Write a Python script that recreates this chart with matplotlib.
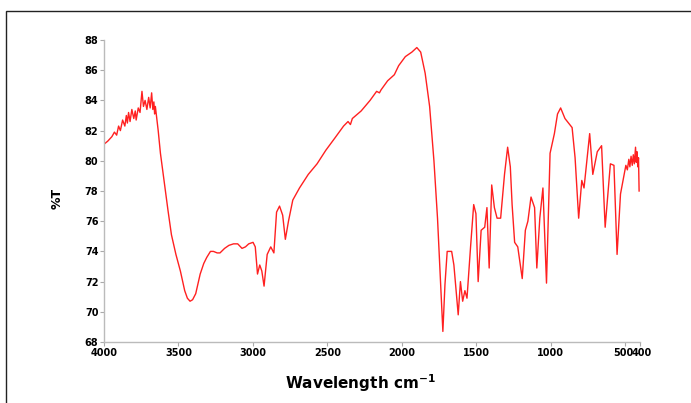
import numpy as np
import matplotlib.pyplot as plt
import matplotlib.transforms as mtransforms
from matplotlib.patches import Rectangle

# IR spectrum (wavenumber in cm-1, transmittance in %)
wavenumber = [4000, 3975, 3947, 3930, 3915, 3902, 3890, 3875, 3860, 3850, 3843, 3835,
              3825, 3813, 3800, 3790, 3784, 3770, 3758, 3745, 3735, 3724, 3712, 3700,
              3690, 3680, 3672, 3665, 3660, 3655, 3648, 3636, 3621, 3605, 3591, 3570,
              3547, 3517, 3487, 3458, 3440, 3422, 3405, 3384, 3354, 3330, 3310, 3285,
              3265, 3240, 3221, 3190, 3161, 3130, 3102, 3073, 3050, 3028, 2999, 2984,
              2969, 2954, 2940, 2925, 2904, 2880, 2859, 2841, 2821, 2800, 2782, 2761,
              2732, 2687, 2628, 2569, 2510, 2450, 2391, 2361, 2345, 2332, 2273, 2213,
              2169, 2150, 2139, 2095, 2050, 2021, 1976, 1932, 1899, 1873, 1843, 1813,
              1784, 1760, 1739, 1724, 1710, 1695, 1665, 1650, 1621, 1606, 1591, 1576,
              1562, 1538, 1517, 1502, 1487, 1467, 1443, 1428, 1413, 1396, 1378, 1360,
              1336, 1310, 1289, 1271, 1259, 1242, 1221, 1191, 1170, 1153, 1132, 1108,
              1093, 1073, 1052, 1028, 1004, 975, 954, 933, 904, 856, 836, 812,
              791, 776, 738, 717, 687, 658, 634, 599, 575, 554, 531, 495,
              485, 475, 468, 460, 452, 445, 438, 430, 425, 420, 415, 410, 406]
transmittance = [81.1, 81.3, 81.6, 81.9, 81.7, 82.3, 82.0, 82.7, 82.3, 83.0, 82.5, 83.2,
                 82.6, 83.4, 82.8, 83.3, 82.7, 83.5, 83.2, 84.6, 83.6, 84.0, 83.4, 84.2,
                 83.5, 84.5, 83.4, 83.9, 83.1, 83.6, 83.0, 82.0, 80.5, 79.3, 78.2, 76.7,
                 75.1, 73.8, 72.7, 71.4, 70.9, 70.7, 70.8, 71.2, 72.5, 73.2, 73.6, 74.0,
                 74.0, 73.9, 73.9, 74.2, 74.4, 74.5, 74.5, 74.2, 74.3, 74.5, 74.6, 74.3,
                 72.5, 73.1, 72.7, 71.7, 73.8, 74.3, 73.9, 76.6, 77.0, 76.4, 74.8, 76.0,
                 77.4, 78.2, 79.1, 79.8, 80.7, 81.5, 82.3, 82.6, 82.4, 82.8, 83.3, 84.0,
                 84.6, 84.5, 84.7, 85.3, 85.7, 86.3, 86.9, 87.2, 87.5, 87.2, 85.8, 83.6,
                 80.0, 76.2, 71.8, 68.7, 71.8, 74.0, 74.0, 73.1, 69.8, 72.0, 70.7, 71.4,
                 70.9, 74.3, 77.1, 76.5, 72.0, 75.4, 75.6, 76.9, 72.9, 78.4, 76.9, 76.2,
                 76.2, 79.1, 80.9, 79.6, 77.1, 74.6, 74.3, 72.2, 75.4, 76.0, 77.6, 76.9,
                 72.9, 76.2, 78.2, 71.9, 80.5, 81.8, 83.1, 83.5, 82.8, 82.2, 80.2, 76.2,
                 78.7, 78.2, 81.8, 79.1, 80.6, 81.0, 75.6, 79.8, 79.7, 73.8, 77.8, 79.7,
                 79.4, 80.1, 79.6, 80.3, 79.7, 80.4, 79.8, 80.9, 79.9, 80.6, 79.6, 80.2, 78.0]

xticks = [4000, 3500, 3000, 2500, 2000, 1500, 1000, 500, 400]
yticks = [68, 70, 72, 74, 76, 78, 80, 82, 84, 86, 88]

fig = plt.figure(figsize=(6.91, 4.03), dpi=100)
ax = fig.add_axes([104 / 691, 1 - 342 / 403, 536 / 691, 302 / 403])

ax.plot(wavenumber, transmittance, color='#ff2020', lw=1.0)

ax.set_xlim(4000, 400)
ax.set_ylim(68, 88)
ax.set_xticks(xticks)
ax.set_yticks(yticks)
ax.set_xticklabels([str(t) for t in xticks], fontsize=7, fontweight='bold')
ax.set_yticklabels([str(t) for t in yticks], fontsize=7, fontweight='bold')
ax.tick_params(length=3, width=0.8, color='#aaaaaa', pad=1)
ax.spines['top'].set_visible(False)
ax.spines['right'].set_visible(False)
for s in ['left', 'bottom']:
    ax.spines[s].set_color('#bbbbbb')
    ax.spines[s].set_linewidth(1.0)

# the last two tick labels sit side by side ("500400"), nudge them apart
labels = ax.get_xticklabels()
labels[-2].set_ha('right')
labels[-2].set_transform(labels[-2].get_transform() +
                         mtransforms.ScaledTranslation(6 / 72, 0, fig.dpi_scale_trans))
labels[-1].set_ha('left')
labels[-1].set_transform(labels[-1].get_transform() +
                         mtransforms.ScaledTranslation(-6 / 72, 0, fig.dpi_scale_trans))

fig.text(57 / 691, 1 - 198 / 403, '%T', rotation=90, fontsize=9, fontweight='bold',
         ha='center', va='center')
fig.text(360 / 691, 1 - 383 / 403, 'Wavelength cm$^{\\mathbf{-1}}$', fontsize=11,
         fontweight='bold', ha='center', va='center')

# frame around the figure (only top and left edges show)
fig.patches.append(Rectangle((6 / 691, -0.05), 1.0, 1.05 - 11 / 403, transform=fig.transFigure,
                             fill=False, edgecolor='#222222', lw=1.0, clip_on=False))

fig.savefig('out.png', dpi=100)
